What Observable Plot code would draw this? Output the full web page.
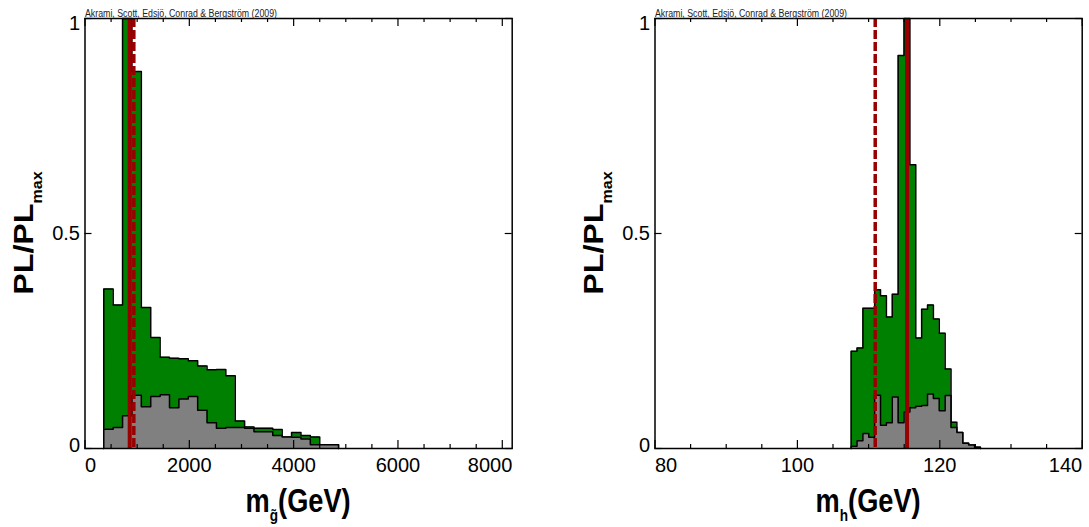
<!DOCTYPE html>
<html><head><meta charset="utf-8">
<script src="https://cdn.jsdelivr.net/npm/d3@7"></script>
<script src="https://cdn.jsdelivr.net/npm/@observablehq/plot@0.6"></script>
<style>
body{margin:0;background:#fff;width:1089px;height:527px;overflow:hidden;position:relative;font-family:"Liberation Sans",Arial,sans-serif}
.panel{position:absolute;top:0}
</style></head><body>
<div id="left" class="panel" style="left:0"></div>
<div id="right" class="panel" style="left:545px"></div>
<script>
const citation = "Akrami, Scott, Edsjö, Conrad & Bergström (2009)";
const yTicks = [0, 0.5, 1];

// ---- gluino mass panel ----
const gluinoEdges = [360, 540, 720, 900, 1080, 1260, 1440, 1620, 1800, 1980, 2160, 2340, 2520, 2700, 2880, 3060, 3240, 3420, 3600, 3780, 3960, 4140, 4320, 4500, 4680, 4860];
const gluinoPL = [0.371, 0.334, 1.0, 0.877, 0.328, 0.258, 0.212, 0.210, 0.209, 0.204, 0.192, 0.183, 0.184, 0.169, 0.064, 0.050, 0.047, 0.047, 0.044, 0.027, 0.037, 0.030, 0.027, 0.009, 0.009];
const gluinoPost = [0.045, 0.049, 0.076, 0.124, 0.097, 0.121, 0.125, 0.095, 0.115, 0.121, 0.089, 0.060, 0.047, 0.049, 0.049, 0.047, 0.039, 0.039, 0.030, 0.027, 0.026, 0.022, 0.009, 0.009, 0.009];
const gluinoBestFit = 857;
const gluinoMean = 936;
const gluinoDomain = [0, 8190];
const gluinoMajor = [0, 2000, 4000, 6000, 8000];
const gluinoMinor = [500, 1000, 1500, 2500, 3000, 3500, 4500, 5000, 5500, 6500, 7000, 7500];

// ---- Higgs mass panel ----
const higgsEdges = [107.55, 108.375, 109.2, 110.025, 110.85, 111.675, 112.5, 113.325, 114.15, 114.975, 115.8, 116.625, 117.45, 118.275, 119.1, 119.925, 120.75, 121.575, 122.4, 123.225, 124.05, 124.875, 125.7];
const higgsPL = [0.226, 0.234, 0.326, 0.326, 0.369, 0.355, 0.306, 0.359, 0.914, 1.0, 0.66, 0.257, 0.324, 0.334, 0.301, 0.268, 0.185, 0.061, 0.037, 0.012, 0.008, 0.003];
const higgsPost = [0.005, 0.018, 0.035, 0.026, 0.124, 0.054, 0.060, 0.120, 0.060, 0.085, 0.095, 0.098, 0.100, 0.127, 0.116, 0.088, 0.123, 0.049, 0.037, 0.012, 0.008, 0.003];
const higgsBestFit = 115.4;
const higgsMean = 110.93;
const higgsDomain = [80, 140];
const higgsMajor = [80, 100, 120, 140];
const higgsMinor = [85, 90, 95, 105, 110, 115, 125, 130, 135];

const GREEN = "#008000", GREY = "#808080", RED = "#990000";
const H = 527, MT = 18, MB = 79;
const FH = H - MT - MB;

function stepPoints(edges, vals) {
  const n = vals.length;
  const pts = [{x: edges[0], y: 0}];
  vals.forEach((v, i) => pts.push({x: edges[i], y: v}));
  pts.push({x: edges[n], y: vals[n - 1]});
  pts.push({x: edges[n], y: 0});
  return pts;
}

function panel({width, ml, mr, domain, edges, pl, post, best, mean, major, minor, xsub}) {
  const FW = width - ml - mr;
  const plPts = stepPoints(edges, pl);
  const postPts = stepPoints(edges, post);
  const inner = major.slice(1, -1);
  const first = major[0], last = major[major.length - 1];
  const lastAtEdge = last === domain[1];
  const tickFont = "Liberation Sans, Arial, sans-serif";
  const svg = Plot.plot({
    width, height: H,
    marginLeft: ml, marginRight: mr, marginTop: MT, marginBottom: MB,
    x: {domain, axis: null},
    y: {domain: [0, 1], axis: null},
    style: {background: "transparent", overflow: "visible"},
    marks: [
      Plot.areaY(plPts, {x: "x", y: "y", curve: "step-after", fill: GREEN}),
      Plot.line(plPts, {x: "x", y: "y", curve: "step-after", stroke: "black", strokeWidth: 1.5}),
      Plot.areaY(postPts, {x: "x", y: "y", curve: "step-after", fill: GREY}),
      Plot.line(postPts, {x: "x", y: "y", curve: "step-after", stroke: "black", strokeWidth: 1.5}),
      Plot.ruleX([best], {x: d => d, stroke: RED, strokeWidth: 4}),
      Plot.ruleX([mean], {x: d => d, stroke: RED, strokeWidth: 3.5, strokeDasharray: "9,3"}),
      Plot.ruleX(major, {x: d => d, insetTop: FH - 8, stroke: "black", strokeWidth: 1.2}),
      Plot.ruleX(minor, {x: d => d, insetTop: FH - 4, stroke: "black", strokeWidth: 1.2}),
      Plot.ruleX(major, {x: d => d, insetBottom: FH - 8, stroke: "black", strokeWidth: 1.2}),
      Plot.ruleX(minor, {x: d => d, insetBottom: FH - 4, stroke: "black", strokeWidth: 1.2}),
      Plot.ruleY(yTicks, {y: d => d, insetRight: FW - 7, stroke: "black", strokeWidth: 1.2}),
      Plot.ruleY(yTicks, {y: d => d, insetLeft: FW - 7, stroke: "black", strokeWidth: 1.2}),
      Plot.frame({stroke: "black", strokeWidth: 1.5}),
      Plot.text([first], {x: d => d, text: d => String(d), frameAnchor: "bottom", lineAnchor: "top", dy: 9, textAnchor: "start", fontSize: 20, fontFamily: tickFont, fill: "black"}),
      Plot.text(inner, {x: d => d, text: d => String(d), frameAnchor: "bottom", lineAnchor: "top", dy: 9, fontSize: 20, fontFamily: tickFont, fill: "black"}),
      Plot.text([last], {x: d => d, text: d => String(d), frameAnchor: "bottom", lineAnchor: "top", dy: 9, textAnchor: "end", dx: lastAtEdge ? 0 : 10, fontSize: 20, fontFamily: tickFont, fill: "black"}),
      Plot.text([0], {y: d => d, text: d => String(d), frameAnchor: "left", textAnchor: "end", lineAnchor: "bottom", dx: -5, dy: 3, fontSize: 20, fontFamily: tickFont, fill: "black"}),
      Plot.text([0.5], {y: d => d, text: d => String(d), frameAnchor: "left", textAnchor: "end", lineAnchor: "middle", dx: -5, fontSize: 20, fontFamily: tickFont, fill: "black"}),
      Plot.text([1], {y: d => d, text: d => String(d), frameAnchor: "left", textAnchor: "end", lineAnchor: "top", dx: -5, dy: -3, fontSize: 20, fontFamily: tickFont, fill: "black"}),
      Plot.text([citation], {frameAnchor: "top-left", textAnchor: "start", lineAnchor: "bottom", dy: -2, fontSize: 10, fontFamily: "Liberation Sans, Arial, sans-serif", fill: "#222"})
    ]
  });
  const s = d3.select(svg);
  s.selectAll("text").filter(function() { return this.textContent === citation; })
    .attr("textLength", 192).attr("lengthAdjust", "spacingAndGlyphs");
  // y axis label
  const yl = s.append("text")
    .attr("transform", `translate(${ml - 52},${MT + FH / 2}) rotate(-90) scale(1.15,1)`)
    .attr("text-anchor", "middle")
    .attr("font-family", "Liberation Sans, Arial, sans-serif")
    .attr("font-weight", "bold").attr("font-size", 28).attr("fill", "black");
  yl.append("tspan").text("PL/PL");
  yl.append("tspan").attr("font-size", 14).attr("dy", 9).text("max");
  // x axis label
  const xl = s.append("text")
    .attr("transform", `translate(${ml + FW / 2},${H - 15}) scale(0.8,1)`)
    .attr("text-anchor", "middle")
    .attr("font-family", "Liberation Sans, Arial, sans-serif")
    .attr("font-weight", "bold").attr("font-size", 34).attr("fill", "black");
  xl.append("tspan").text("m");
  xl.append("tspan").attr("font-size", 17).attr("dy", 9).text(xsub);
  xl.append("tspan").attr("dy", -9).text("(GeV)");
  return svg;
}

document.getElementById("left").appendChild(panel({
  width: 545, ml: 84.5, mr: 33.3, domain: gluinoDomain,
  edges: gluinoEdges, pl: gluinoPL, post: gluinoPost,
  best: gluinoBestFit, mean: gluinoMean, major: gluinoMajor, minor: gluinoMinor, xsub: "g\u0303"
}));
document.getElementById("right").appendChild(panel({
  width: 544, ml: 109.5, mr: 7.3, domain: higgsDomain,
  edges: higgsEdges, pl: higgsPL, post: higgsPost,
  best: higgsBestFit, mean: higgsMean, major: higgsMajor, minor: higgsMinor, xsub: "h"
}));
</script>
</body></html>
